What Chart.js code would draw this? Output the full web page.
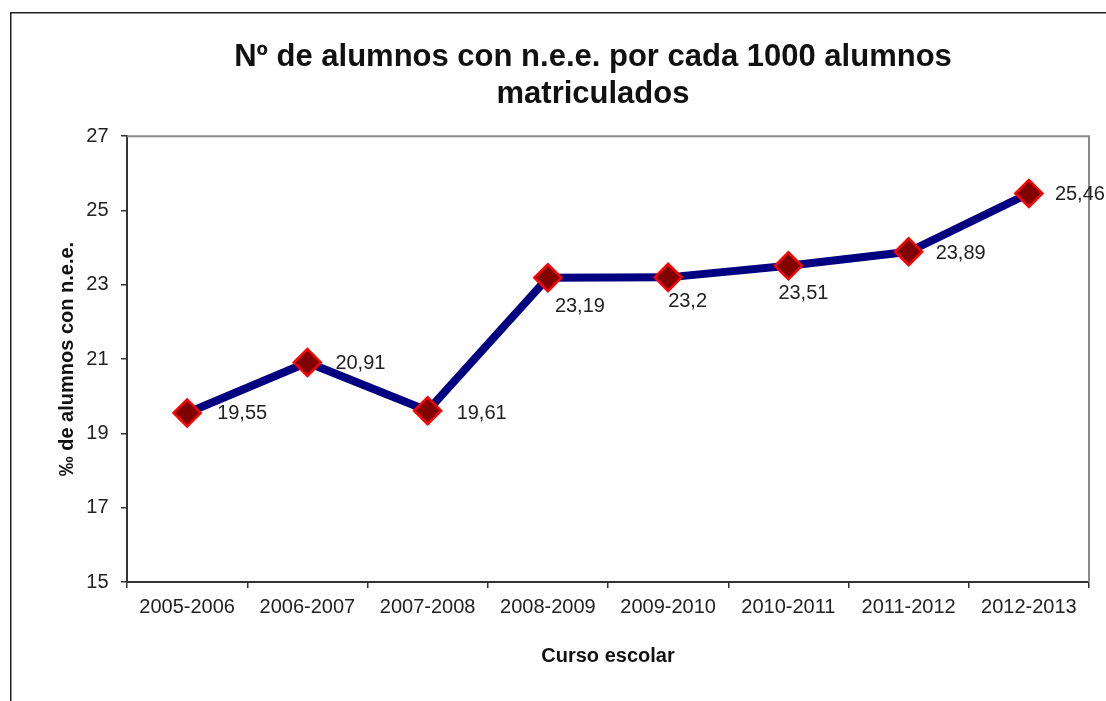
<!DOCTYPE html>
<html>
<head>
<meta charset="utf-8">
<script src="https://cdn.jsdelivr.net/npm/chart.js@4/dist/chart.umd.min.js"></script>
<style>
  html, body { margin: 0; padding: 0; background: #fff; overflow: hidden; width: 1106px; height: 701px; }
  #wrap { position: absolute; left: 0; top: 0; width: 1186px; height: 701px; }
  canvas { display: block; background: #fff; }
</style>
</head>
<body>
<div id="wrap"><canvas id="c" width="1186" height="701"></canvas></div>
<script>
const titleLines = ['Nº de alumnos con n.e.e. por cada 1000 alumnos', 'matriculados'];
const xTitle = 'Curso escolar';
const yTitle = '‰ de alumnos con n.e.e.';
const categories = ['2005-2006', '2006-2007', '2007-2008', '2008-2009', '2009-2010', '2010-2011', '2011-2012', '2012-2013'];
const values = [19.55, 20.91, 19.61, 23.19, 23.2, 23.51, 23.89, 25.46];
const yMin = 15, yMax = 27, yStep = 2;

const FONT = '"Liberation Sans", Arial, sans-serif';
const TEXT = '#222';

// label placement relative to each point (style, not data)
const labelOffsets = [[30, 0.5], [28, 1.5], [29, 2.5], [7, 29], [0, 24], [-10, 28], [27, 2], [26, 1.5]];

const framePlugin = {
  id: 'frame',
  beforeDatasetsDraw(chart) {
    const {ctx, chartArea: a} = chart;
    ctx.save();
    ctx.strokeStyle = '#8a8a8a';
    ctx.lineWidth = 2;
    ctx.beginPath();
    ctx.moveTo(a.left, a.top);
    ctx.lineTo(a.right, a.top);
    ctx.lineTo(a.right, a.bottom);
    ctx.stroke();
    ctx.restore();
  },
  afterDraw(chart) {
    const {ctx} = chart;
    ctx.save();
    ctx.strokeStyle = '#222';
    ctx.lineWidth = 1.5;
    ctx.beginPath();
    ctx.moveTo(10.75, 701);
    ctx.lineTo(10.75, 12.75);
    ctx.lineTo(1106, 12.75);
    ctx.stroke();
    ctx.restore();
  }
};

const labelPlugin = {
  id: 'valueLabels',
  afterDatasetsDraw(chart) {
    const {ctx} = chart;
    const meta = chart.getDatasetMeta(0);
    ctx.save();
    ctx.font = '20px ' + FONT;
    ctx.fillStyle = TEXT;
    ctx.textAlign = 'left';
    ctx.textBaseline = 'middle';
    meta.data.forEach((pt, i) => {
      const v = chart.data.datasets[0].data[i];
      const off = labelOffsets[i];
      ctx.fillText(String(v).replace('.', ','), pt.x + off[0], pt.y + off[1]);
    });
    ctx.restore();
  }
};

new Chart(document.getElementById('c'), {
  type: 'line',
  data: {
    labels: categories,
    datasets: [{
      data: values,
      borderColor: '#000080',
      borderWidth: 8,
      tension: 0,
      fill: false,
      pointStyle: 'rectRot',
      pointRadius: 13.5,
      pointHoverRadius: 13.5,
      pointBackgroundColor: '#800000',
      pointBorderColor: '#ff0000',
      pointBorderWidth: 2.5
    }]
  },
  options: {
    responsive: false,
    animation: false,
    devicePixelRatio: 1,
    layout: { padding: 0 },
    plugins: {
      legend: { display: false },
      tooltip: { enabled: false },
      title: {
        display: true,
        text: titleLines,
        color: '#111',
        font: { family: FONT, size: 31, weight: 'bold', lineHeight: 1.2 },
        padding: { top: 38.5, bottom: 23.3 }
      }
    },
    scales: {
      x: {
        type: 'category',
        offset: true,
        afterFit(s) { s.height = 119; },
        grid: { display: true, offset: true, drawOnChartArea: false, drawTicks: true, tickLength: 6, color: '#333', lineWidth: 1.5 },
        border: { display: true, color: '#333', width: 2 },
        ticks: { color: TEXT, font: { family: FONT, size: 20 }, padding: 7, maxRotation: 0, autoSkip: false },
        title: { display: true, text: xTitle, color: '#111', font: { family: FONT, size: 20, weight: 'bold', lineHeight: 1.2 }, padding: { top: 0, bottom: 32.5 } }
      },
      y: {
        type: 'linear',
        position: 'left',
        min: yMin,
        max: yMax,
        afterFit(s) { s.width = 127; },
        grid: { display: true, drawOnChartArea: false, drawTicks: true, tickLength: 6, color: '#333', lineWidth: 1.5 },
        border: { display: true, color: '#333', width: 2 },
        ticks: { stepSize: yStep, color: TEXT, font: { family: FONT, size: 20 }, padding: 12.5 },
        title: { display: true, text: yTitle, color: '#111', font: { family: FONT, size: 20, weight: 'bold', lineHeight: 1.2 }, padding: { top: 55, bottom: 0 } }
      },
      yRight: {
        type: 'linear',
        position: 'right',
        display: true,
        afterFit(s) { s.width = 97; },
        grid: { display: false },
        border: { display: false },
        ticks: { display: false }
      }
    }
  },
  plugins: [framePlugin, labelPlugin]
});
</script>
</body>
</html>
